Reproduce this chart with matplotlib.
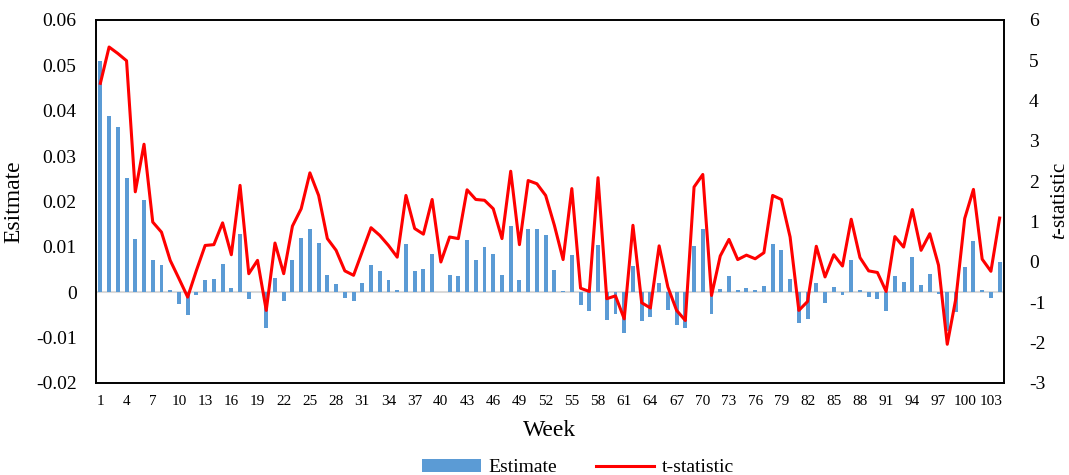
import numpy as np
import matplotlib
matplotlib.use('Agg')
import matplotlib.pyplot as plt
from matplotlib.patches import Patch
from matplotlib.lines import Line2D

plt.rcParams['font.family'] = ['Liberation Serif', 'DejaVu Serif']
plt.rcParams['axes.unicode_minus'] = False
plt.rcParams['mathtext.fontset'] = 'custom'
plt.rcParams['mathtext.it'] = 'Liberation Serif:italic'
plt.rcParams['mathtext.rm'] = 'Liberation Serif'

# 数据：每周估计值与 t 统计量
weeks = list(range(1, 105))
estimate = [
    0.0510, 0.0388, 0.0364, 0.0252, 0.0118, 0.0204, 0.0072, 0.0059, 0.0004, -0.0025,
    -0.0051, -0.0007, 0.0026, 0.0029, 0.0062, 0.0010, 0.0129, -0.0015, 0.0001, -0.0079,
    0.0032, -0.0019, 0.0072, 0.0119, 0.0139, 0.0108, 0.0038, 0.0019, -0.0013, -0.0019,
    0.0020, 0.0059, 0.0046, 0.0028, 0.0006, 0.0107, 0.0047, 0.0052, 0.0084, 0.0001,
    0.0038, 0.0035, 0.0116, 0.0072, 0.0099, 0.0084, 0.0039, 0.0146, 0.0028, 0.0139,
    0.0139, 0.0126, 0.0050, 0.0003, 0.0082, -0.0029, -0.0041, 0.0104, -0.0062, -0.0049,
    -0.0090, 0.0057, -0.0064, -0.0055, 0.0020, -0.0039, -0.0073, -0.0079, 0.0101, 0.0139,
    -0.0048, 0.0008, 0.0035, 0.0004, 0.0010, 0.0004, 0.0013, 0.0106, 0.0094, 0.0030,
    -0.0067, -0.0060, 0.0021, -0.0023, 0.0011, -0.0005, 0.0071, 0.0006, -0.0011, -0.0015,
    -0.0042, 0.0036, 0.0023, 0.0077, 0.0016, 0.0040, -0.0004, -0.0085, -0.0044, 0.0056,
    0.0113, 0.0004, -0.0013, 0.0066,
]
tstat = [
    4.43, 5.33, 5.17, 4.99, 1.74, 2.92, 0.99, 0.74, 0.04, -0.41,
    -0.87, -0.21, 0.41, 0.43, 0.97, 0.18, 1.90, -0.29, 0.04, -1.20,
    0.47, -0.29, 0.89, 1.32, 2.21, 1.65, 0.58, 0.29, -0.22, -0.33,
    0.26, 0.85, 0.66, 0.41, 0.12, 1.65, 0.83, 0.69, 1.55, 0.00,
    0.62, 0.58, 1.79, 1.55, 1.53, 1.32, 0.58, 2.25, 0.43, 2.02,
    1.94, 1.65, 0.91, 0.06, 1.82, -0.65, -0.73, 2.09, -0.91, -0.84,
    -1.41, 0.91, -1.01, -1.14, 0.40, -0.62, -1.20, -1.45, 1.86, 2.17,
    -0.83, 0.15, 0.56, 0.06, 0.17, 0.08, 0.23, 1.65, 1.55, 0.62,
    -1.20, -0.98, 0.39, -0.37, 0.18, -0.10, 1.06, 0.11, -0.22, -0.26,
    -0.73, 0.63, 0.37, 1.30, 0.29, 0.70, -0.08, -2.04, -0.89, 1.08,
    1.80, 0.07, -0.23, 1.09,
]
left_ticks = [-0.02, -0.01, 0, 0.01, 0.02, 0.03, 0.04, 0.05, 0.06]
left_labels = ['-0.02', '-0.01', '0', '0.01', '0.02', '0.03', '0.04', '0.05', '0.06']
right_ticks = list(range(-3, 7))

bar_color = '#5B9BD5'
line_color = '#FF0000'

fig = plt.figure(figsize=(10.69, 4.75), dpi=100)
ax = fig.add_axes([0.0898, 0.1937, 0.8494, 0.7642])

ax.axhline(0, color='#D9D9D9', lw=1.5, zorder=1)
ax.bar(weeks, estimate, width=0.45, color=bar_color, zorder=2)
ax.set_xlim(0.5, 104.5)
ax.set_ylim(-0.02, 0.06)
ax.set_yticks(left_ticks)
ax.set_yticklabels(left_labels, fontsize=14)
ax.set_xticks(weeks[::3])
ax.set_xticklabels([str(w) for w in weeks[::3]], fontsize=11)
ax.tick_params(axis='y', length=0, pad=14)
ax.tick_params(axis='x', length=0, pad=9)
ax.set_ylabel('Esitmate', fontsize=17, labelpad=8)
ax.set_xlabel('Week', fontsize=17, labelpad=8)

ax2 = ax.twinx()
ax2.plot(weeks, tstat, color=line_color, lw=2.2, zorder=3)
ax2.set_ylim(-3, 6)
ax2.set_yticks(right_ticks)
ax2.set_yticklabels([str(t) for t in right_ticks], fontsize=14)
ax2.tick_params(axis='y', length=0, pad=18)
ax2.set_ylabel(r'$t$-statistic', fontsize=15, labelpad=4)

for a in (ax, ax2):
    for s in a.spines.values():
        s.set_color('black')
        s.set_linewidth(1.2)

handles = [Patch(facecolor=bar_color, edgecolor='none'),
           Line2D([0], [0], color=line_color, lw=2.2)]
fig.legend(handles, ['Estimate', 't-statistic'], loc='lower center',
           bbox_to_anchor=(0.541, -0.04), ncol=2, frameon=False,
           fontsize=14, handlelength=3.0, handleheight=0.6,
           handletextpad=0.4, columnspacing=2.0)

fig.savefig('out.png', dpi=100)
